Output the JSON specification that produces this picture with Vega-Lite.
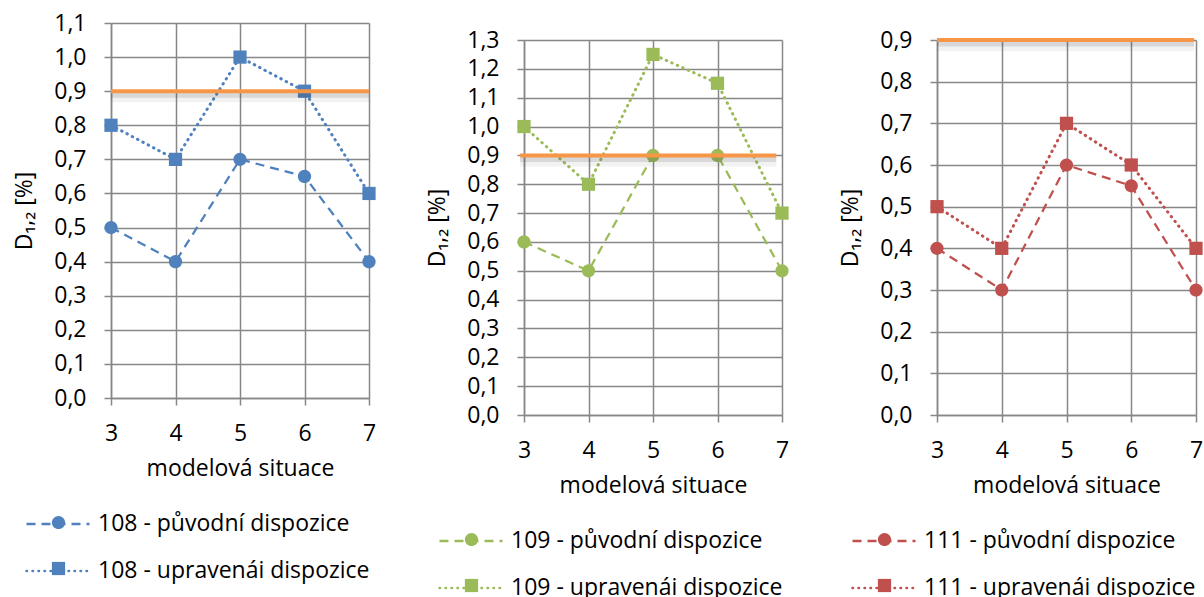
{
  "$schema": "https://vega.github.io/schema/vega-lite/v6.json",
  "padding": {"left": 13, "top": 12, "right": 0, "bottom": 0},
  "background": "white",
  "datasets": {
    "series": [
      {"panel": "108", "kind": "orig", "series": "108 - původní dispozice", "situace": 3, "D": 0.5},
      {"panel": "108", "kind": "orig", "series": "108 - původní dispozice", "situace": 4, "D": 0.4},
      {"panel": "108", "kind": "orig", "series": "108 - původní dispozice", "situace": 5, "D": 0.7},
      {"panel": "108", "kind": "orig", "series": "108 - původní dispozice", "situace": 6, "D": 0.65},
      {"panel": "108", "kind": "orig", "series": "108 - původní dispozice", "situace": 7, "D": 0.4},
      {"panel": "108", "kind": "upr", "series": "108 - upravenái dispozice", "situace": 3, "D": 0.8},
      {"panel": "108", "kind": "upr", "series": "108 - upravenái dispozice", "situace": 4, "D": 0.7},
      {"panel": "108", "kind": "upr", "series": "108 - upravenái dispozice", "situace": 5, "D": 1.0},
      {"panel": "108", "kind": "upr", "series": "108 - upravenái dispozice", "situace": 6, "D": 0.9},
      {"panel": "108", "kind": "upr", "series": "108 - upravenái dispozice", "situace": 7, "D": 0.6},
      {"panel": "109", "kind": "orig", "series": "109 - původní dispozice", "situace": 3, "D": 0.6},
      {"panel": "109", "kind": "orig", "series": "109 - původní dispozice", "situace": 4, "D": 0.5},
      {"panel": "109", "kind": "orig", "series": "109 - původní dispozice", "situace": 5, "D": 0.9},
      {"panel": "109", "kind": "orig", "series": "109 - původní dispozice", "situace": 6, "D": 0.9},
      {"panel": "109", "kind": "orig", "series": "109 - původní dispozice", "situace": 7, "D": 0.5},
      {"panel": "109", "kind": "upr", "series": "109 - upravenái dispozice", "situace": 3, "D": 1.0},
      {"panel": "109", "kind": "upr", "series": "109 - upravenái dispozice", "situace": 4, "D": 0.8},
      {"panel": "109", "kind": "upr", "series": "109 - upravenái dispozice", "situace": 5, "D": 1.25},
      {"panel": "109", "kind": "upr", "series": "109 - upravenái dispozice", "situace": 6, "D": 1.15},
      {"panel": "109", "kind": "upr", "series": "109 - upravenái dispozice", "situace": 7, "D": 0.7},
      {"panel": "111", "kind": "orig", "series": "111 - původní dispozice", "situace": 3, "D": 0.4},
      {"panel": "111", "kind": "orig", "series": "111 - původní dispozice", "situace": 4, "D": 0.3},
      {"panel": "111", "kind": "orig", "series": "111 - původní dispozice", "situace": 5, "D": 0.6},
      {"panel": "111", "kind": "orig", "series": "111 - původní dispozice", "situace": 6, "D": 0.55},
      {"panel": "111", "kind": "orig", "series": "111 - původní dispozice", "situace": 7, "D": 0.3},
      {"panel": "111", "kind": "upr", "series": "111 - upravenái dispozice", "situace": 3, "D": 0.5},
      {"panel": "111", "kind": "upr", "series": "111 - upravenái dispozice", "situace": 4, "D": 0.4},
      {"panel": "111", "kind": "upr", "series": "111 - upravenái dispozice", "situace": 5, "D": 0.7},
      {"panel": "111", "kind": "upr", "series": "111 - upravenái dispozice", "situace": 6, "D": 0.6},
      {"panel": "111", "kind": "upr", "series": "111 - upravenái dispozice", "situace": 7, "D": 0.4}
    ],
    "limit": [
      {"panel": "108", "situace": 3, "situace2": 7, "D": 0.9},
      {"panel": "109", "situace": 2.94, "situace2": 6.91, "D": 0.9},
      {"panel": "111", "situace": 3, "situace2": 6.97, "D": 0.9}
    ]
  },
  "config": {
    "font": "Open Sans",
    "view": {"stroke": null},
    "axis": {
      "labelFont": "Open Sans", "labelFontSize": 23, "labelColor": "#000000",
      "titleFont": "Open Sans", "titleFontSize": 23, "titleFontWeight": "normal", "titleColor": "#000000",
      "gridColor": "#878787", "gridWidth": 1.5, "gridOpacity": 1,
      "domainColor": "#878787", "domainWidth": 1.5,
      "tickColor": "#878787", "tickWidth": 1.5, "tickSize": 7, "labelFlush": false
    },
    "axisX": {"labelPadding": 17, "titlePadding": 12},
    "axisY": {"labelPadding": 18, "titlePadding": 17},
    "legend": {
      "orient": "none", "direction": "vertical",
      "symbolSize": 3969, "labelFont": "Open Sans", "labelFontSize": 23, "labelColor": "#000000",
      "labelOffset": 7, "labelLimit": 500, "rowPadding": 2, "padding": 0
    }
  },
  "resolve": {"scale": {"color": "independent", "shape": "independent"}, "legend": {"color": "independent", "shape": "independent"}},
  "spacing": 50,
  "hconcat": [
    {
      "width": 258, "height": 375,
      "encoding": {
        "x": {"field": "situace", "type": "quantitative", "scale": {"domain": [3, 7], "nice": false, "zero": false},
              "axis": {"values": [3, 4, 5, 6, 7], "format": "d", "title": "modelová situace"}},
        "y": {"field": "D", "type": "quantitative", "scale": {"domain": [0, 1.1], "nice": false},
              "axis": {"values": [0, 0.1, 0.2, 0.3, 0.4, 0.5, 0.6, 0.7, 0.8, 0.9, 1.0, 1.1], "labelExpr": "replace(format(datum.value, '.1f'), '.', ',')", "title": "D₁,₂ [%]"}}
      },
      "layer": [
        {
          "data": {"name": "series"},
          "transform": [{"filter": "datum.panel == '108' && datum.kind == 'orig'"}],
          "mark": {"type": "line", "strokeDash": [9, 6], "strokeWidth": 2.25},
          "encoding": {
            "color": {"field": "series", "type": "nominal",
                      "scale": {"domain": ["108 - původní dispozice", "108 - upravenái dispozice"], "range": ["#4F81BD", "#4F81BD"]},
                      "legend": {"title": null, "legendX": -86, "legendY": 468, "encode": {"symbols": {"update": {
                        "shape": {"value": "M-1,0H1"},
                        "strokeDash": {"signal": "indexof(datum.value, 'původní') >= 0 ? [9,6] : [0.5,5.5]"},
                        "strokeCap": {"signal": "indexof(datum.value, 'původní') >= 0 ? 'butt' : 'round'"},
                        "fill": {"value": "transparent"}, "stroke": {"value": "#4F81BD"},
                        "strokeWidth": {"value": 2.5}, "opacity": {"value": 1}, "strokeOpacity": {"value": 1}}}}}}
          }
        },
        {
          "data": {"name": "series"},
          "transform": [{"filter": "datum.panel == '108' && datum.kind == 'upr'"}],
          "mark": {"type": "line", "strokeDash": [0.5, 5.5], "strokeCap": "round", "strokeWidth": 3},
          "encoding": {"color": {"field": "series", "type": "nominal"}}
        },
        {
          "data": {"name": "series"},
          "transform": [{"filter": "datum.panel == '108'"}],
          "mark": {"type": "point", "filled": true, "size": 3969, "color": "#4F81BD", "opacity": 1, "strokeWidth": 0},
          "encoding": {
            "shape": {"field": "kind", "type": "nominal",
                      "scale": {"domain": ["orig", "upr"], "range": ["M-0.21,0A0.21,0.21 0 1,1 0.21,0A0.21,0.21 0 1,1 -0.21,0Z", "M-0.21,-0.21H0.21V0.21H-0.21Z"]},
                      "legend": {"title": null, "legendX": -84, "legendY": 468, "labelOpacity": 0, "symbolStrokeWidth": 0}}
          }
        },
        {
          "data": {"name": "limit"},
          "transform": [{"filter": "datum.panel == '108'"}],
          "mark": {"type": "rule", "color": "#444444", "strokeWidth": 10, "opacity": 0.07, "yOffset": 6},
          "encoding": {"x2": {"field": "situace2"}}
        },
        {
          "data": {"name": "limit"},
          "transform": [{"filter": "datum.panel == '108'"}],
          "mark": {"type": "rule", "color": "#444444", "strokeWidth": 5, "opacity": 0.15, "yOffset": 4},
          "encoding": {"x2": {"field": "situace2"}}
        },
        {
          "data": {"name": "limit"},
          "transform": [{"filter": "datum.panel == '108'"}],
          "mark": {"type": "rule", "color": "#F79646", "strokeWidth": 4},
          "encoding": {"x2": {"field": "situace2"}}
        }
      ]
    },
    {
      "spacing": 0,
      "vconcat": [
        {"width": 258, "height": 6, "data": {"values": [{}]}, "mark": {"type": "point", "opacity": 0}, "encoding": {}},
        {
          "width": 258, "height": 375,
          "encoding": {
            "x": {"field": "situace", "type": "quantitative", "scale": {"domain": [3, 7], "nice": false, "zero": false},
                  "axis": {"values": [3, 4, 5, 6, 7], "format": "d", "title": "modelová situace"}},
            "y": {"field": "D", "type": "quantitative", "scale": {"domain": [0, 1.3], "nice": false},
                  "axis": {"values": [0, 0.1, 0.2, 0.3, 0.4, 0.5, 0.6, 0.7, 0.8, 0.9, 1.0, 1.1, 1.2, 1.3], "labelExpr": "replace(format(datum.value, '.1f'), '.', ',')", "title": "D₁,₂ [%]"}}
          },
          "layer": [
            {
              "data": {"name": "series"},
              "transform": [{"filter": "datum.panel == '109' && datum.kind == 'orig'"}],
              "mark": {"type": "line", "strokeDash": [9, 6], "strokeWidth": 2.25},
              "encoding": {
                "color": {"field": "series", "type": "nominal",
                          "scale": {"domain": ["109 - původní dispozice", "109 - upravenái dispozice"], "range": ["#9BBB59", "#9BBB59"]},
                          "legend": {"title": null, "legendX": -86, "legendY": 485, "encode": {"symbols": {"update": {
                            "shape": {"value": "M-1,0H1"},
                            "strokeDash": {"signal": "indexof(datum.value, 'původní') >= 0 ? [9,6] : [0.5,5.5]"},
                            "strokeCap": {"signal": "indexof(datum.value, 'původní') >= 0 ? 'butt' : 'round'"},
                            "fill": {"value": "transparent"}, "stroke": {"value": "#9BBB59"},
                            "strokeWidth": {"value": 2.5}, "opacity": {"value": 1}, "strokeOpacity": {"value": 1}}}}}}
              }
            },
            {
              "data": {"name": "series"},
              "transform": [{"filter": "datum.panel == '109' && datum.kind == 'upr'"}],
              "mark": {"type": "line", "strokeDash": [0.5, 5.5], "strokeCap": "round", "strokeWidth": 3},
              "encoding": {"color": {"field": "series", "type": "nominal"}}
            },
            {
              "data": {"name": "series"},
              "transform": [{"filter": "datum.panel == '109'"}],
              "mark": {"type": "point", "filled": true, "size": 3969, "color": "#9BBB59", "opacity": 1, "strokeWidth": 0},
              "encoding": {
                "shape": {"field": "kind", "type": "nominal",
                          "scale": {"domain": ["orig", "upr"], "range": ["M-0.21,0A0.21,0.21 0 1,1 0.21,0A0.21,0.21 0 1,1 -0.21,0Z", "M-0.21,-0.21H0.21V0.21H-0.21Z"]},
                          "legend": {"title": null, "legendX": -84, "legendY": 485, "labelOpacity": 0, "symbolStrokeWidth": 0}}
              }
            },
            {
              "data": {"name": "limit"},
              "transform": [{"filter": "datum.panel == '109'"}],
              "mark": {"type": "rule", "color": "#444444", "strokeWidth": 10, "opacity": 0.07, "yOffset": 6},
              "encoding": {"x2": {"field": "situace2"}}
            },
            {
              "data": {"name": "limit"},
              "transform": [{"filter": "datum.panel == '109'"}],
              "mark": {"type": "rule", "color": "#444444", "strokeWidth": 5, "opacity": 0.15, "yOffset": 4},
              "encoding": {"x2": {"field": "situace2"}}
            },
            {
              "data": {"name": "limit"},
              "transform": [{"filter": "datum.panel == '109'"}],
              "mark": {"type": "rule", "color": "#F79646", "strokeWidth": 4},
              "encoding": {"x2": {"field": "situace2"}}
            }
          ]
        }
      ]
    },
    {
      "spacing": 0,
      "vconcat": [
        {"width": 259, "height": 6, "data": {"values": [{}]}, "mark": {"type": "point", "opacity": 0}, "encoding": {}},
        {
          "width": 259, "height": 375,
          "encoding": {
            "x": {"field": "situace", "type": "quantitative", "scale": {"domain": [3, 7], "nice": false, "zero": false},
                  "axis": {"values": [3, 4, 5, 6, 7], "format": "d", "title": "modelová situace"}},
            "y": {"field": "D", "type": "quantitative", "scale": {"domain": [0, 0.9], "nice": false},
                  "axis": {"values": [0, 0.1, 0.2, 0.3, 0.4, 0.5, 0.6, 0.7, 0.8, 0.9], "labelExpr": "replace(format(datum.value, '.1f'), '.', ',')", "title": "D₁,₂ [%]"}}
          },
          "layer": [
            {
              "data": {"name": "series"},
              "transform": [{"filter": "datum.panel == '111' && datum.kind == 'orig'"}],
              "mark": {"type": "line", "strokeDash": [9, 6], "strokeWidth": 2.25},
              "encoding": {
                "color": {"field": "series", "type": "nominal",
                          "scale": {"domain": ["111 - původní dispozice", "111 - upravenái dispozice"], "range": ["#C0504D", "#C0504D"]},
                          "legend": {"title": null, "legendX": -86, "legendY": 485, "encode": {"symbols": {"update": {
                            "shape": {"value": "M-1,0H1"},
                            "strokeDash": {"signal": "indexof(datum.value, 'původní') >= 0 ? [9,6] : [0.5,5.5]"},
                            "strokeCap": {"signal": "indexof(datum.value, 'původní') >= 0 ? 'butt' : 'round'"},
                            "fill": {"value": "transparent"}, "stroke": {"value": "#C0504D"},
                            "strokeWidth": {"value": 2.5}, "opacity": {"value": 1}, "strokeOpacity": {"value": 1}}}}}}
              }
            },
            {
              "data": {"name": "series"},
              "transform": [{"filter": "datum.panel == '111' && datum.kind == 'upr'"}],
              "mark": {"type": "line", "strokeDash": [0.5, 5.5], "strokeCap": "round", "strokeWidth": 3},
              "encoding": {"color": {"field": "series", "type": "nominal"}}
            },
            {
              "data": {"name": "series"},
              "transform": [{"filter": "datum.panel == '111'"}],
              "mark": {"type": "point", "filled": true, "size": 3969, "color": "#C0504D", "opacity": 1, "strokeWidth": 0},
              "encoding": {
                "shape": {"field": "kind", "type": "nominal",
                          "scale": {"domain": ["orig", "upr"], "range": ["M-0.21,0A0.21,0.21 0 1,1 0.21,0A0.21,0.21 0 1,1 -0.21,0Z", "M-0.21,-0.21H0.21V0.21H-0.21Z"]},
                          "legend": {"title": null, "legendX": -84, "legendY": 485, "labelOpacity": 0, "symbolStrokeWidth": 0}}
              }
            },
            {
              "data": {"name": "limit"},
              "transform": [{"filter": "datum.panel == '111'"}],
              "mark": {"type": "rule", "color": "#444444", "strokeWidth": 10, "opacity": 0.07, "yOffset": 6},
              "encoding": {"x2": {"field": "situace2"}}
            },
            {
              "data": {"name": "limit"},
              "transform": [{"filter": "datum.panel == '111'"}],
              "mark": {"type": "rule", "color": "#444444", "strokeWidth": 5, "opacity": 0.15, "yOffset": 4},
              "encoding": {"x2": {"field": "situace2"}}
            },
            {
              "data": {"name": "limit"},
              "transform": [{"filter": "datum.panel == '111'"}],
              "mark": {"type": "rule", "color": "#F79646", "strokeWidth": 4},
              "encoding": {"x2": {"field": "situace2"}}
            }
          ]
        }
      ]
    }
  ]
}
